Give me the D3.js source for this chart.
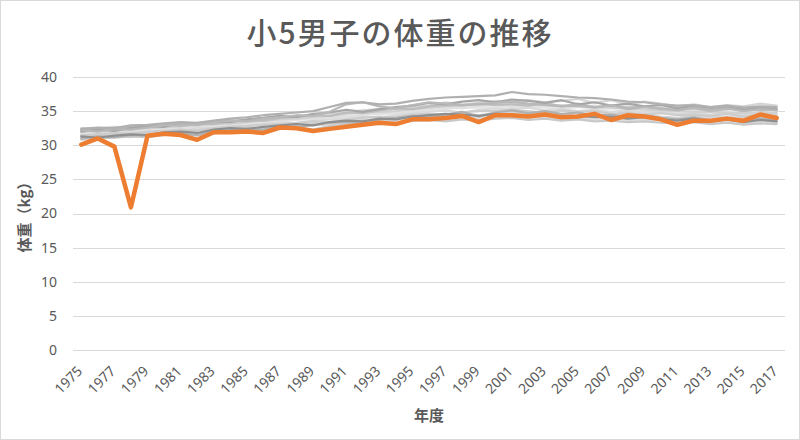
<!DOCTYPE html>
<html><head><meta charset="utf-8">
<script src="https://cdn.jsdelivr.net/npm/d3@7"></script>
<style>
html,body{margin:0;padding:0;background:#fff;}
text{font-family:"Noto Sans CJK JP","Noto Sans",sans-serif;}
</style></head>
<body><svg id="c" width="800" height="440"></svg>
<script>
const years = d3.range(1975, 2018);
const yTicks = [0,5,10,15,20,25,30,35,40];
const xTickLabels = years.filter(y => (y - 1975) % 2 === 0);

const highlight = [30.1,31.0,29.8,20.9,31.4,31.7,31.5,30.8,31.9,31.9,
  32.0,31.8,32.6,32.5,32.1,32.4,32.7,33.0,33.3,33.1,
  33.8,33.8,34.0,34.3,33.4,34.4,34.4,34.2,34.5,34.1,
  34.2,34.6,33.7,34.4,34.2,33.8,33.0,33.6,33.6,33.9,
  33.6,34.5,34.0];

const grayA = [32.4,32.6,32.5,32.9,33.0,33.2,33.4,33.3,33.6,33.9,34.1,34.4,34.6,34.8,35.0,35.6,36.2,36.3,36.0,36.1,36.5,36.8,37.0,37.1,37.2,37.3,37.8,37.5,37.4,37.2,37.0,36.9,36.7,36.4,36.3,36.0,35.8,35.9,35.6,35.8,35.5,35.7,35.6];
const grayB = [30.9,31.0,31.1,31.3,31.2,31.5,31.6,31.4,31.8,32.0,32.1,32.0,32.4,32.6,32.3,32.8,33.0,33.2,33.1,33.3,33.6,33.7,33.5,33.8,33.6,33.9,34.0,33.7,33.9,33.6,33.8,33.5,33.6,33.4,33.5,33.3,33.2,33.4,33.1,33.3,33.0,33.2,33.1];
const grayC = [32.0,32.3,32.1,32.5,32.8,32.7,33.3,33.0,33.5,33.4,33.8,34.0,34.3,34.1,34.6,34.8,35.2,34.9,35.3,35.6,35.8,36.2,36.0,36.4,36.6,36.3,36.7,36.5,36.2,36.6,36.0,36.3,35.8,36.1,35.7,35.9,35.4,35.8,35.3,35.6,35.2,35.5,35.3];
const grayD = [31.5,31.7,31.6,31.9,32.0,32.2,32.1,32.5,32.6,32.8,32.9,33.1,33.3,33.2,33.6,33.8,33.9,34.2,34.0,34.4,34.7,34.9,35.1,34.8,35.2,35.4,35.3,35.5,35.1,35.3,35.0,35.2,34.9,35.1,34.8,34.9,34.6,34.7,34.5,34.8,34.4,34.6,34.5];
const grayE = [31.2,31.4,31.5,31.6,31.8,31.7,32.0,32.2,32.1,32.4,32.6,32.5,32.9,33.0,33.2,33.1,33.5,33.7,33.6,33.9,34.1,34.3,34.2,34.6,34.4,34.7,34.8,34.6,34.9,34.5,34.7,34.4,34.6,34.3,34.5,34.2,34.0,34.3,34.1,34.2,33.9,34.1,34.0];
const grayF = [32.2,32.0,32.4,32.3,32.6,32.9,33.1,33.0,33.4,33.6,33.5,33.9,34.1,34.4,34.3,34.9,36.0,36.3,35.7,35.4,35.9,36.3,36.1,35.9,36.0,36.2,36.4,36.1,35.9,35.7,35.8,35.5,35.9,35.3,35.6,35.4,35.1,35.5,35.2,35.4,35.0,35.3,35.1];
const grayG = [31.8,32.1,32.0,32.2,32.4,32.6,32.5,32.8,33.0,33.1,33.3,33.5,33.4,33.8,34.0,34.2,34.1,34.5,34.7,34.6,35.0,35.3,35.5,35.4,35.7,35.9,35.6,35.8,35.7,35.9,35.6,35.8,35.5,35.7,35.4,35.6,35.3,35.5,35.2,35.4,35.1,35.3,35.2];
const grayH = [31.0,31.3,31.2,31.5,31.4,31.8,31.7,31.5,32.0,32.2,32.4,32.3,32.8,32.6,33.0,33.3,33.4,33.3,33.8,34.0,34.3,34.1,34.5,34.9,34.2,34.8,35.1,34.7,35.0,34.6,34.8,34.3,34.5,34.1,34.4,34.0,33.8,34.1,33.7,34.0,33.6,33.9,33.7];
const grayI = [32.5,32.4,32.7,32.6,32.9,33.1,32.9,33.3,33.5,33.7,33.6,34.0,34.2,34.0,34.5,34.7,34.9,35.1,35.3,35.2,35.6,35.8,36.3,36.0,36.2,36.5,36.4,36.6,36.3,36.5,36.8,36.2,36.6,36.0,36.4,36.1,35.7,36.0,35.6,35.9,35.7,36.1,35.8];
const grayJ = [31.4,31.6,31.8,31.7,32.0,32.1,32.3,32.2,32.5,32.7,32.8,33.0,33.1,33.3,33.5,33.4,33.7,34.0,34.2,34.1,34.5,34.6,34.4,34.8,35.0,35.0,35.2,35.0,34.7,35.1,34.9,35.0,34.6,34.8,34.5,34.7,34.4,34.5,34.3,34.6,34.2,34.5,34.3];
const grayK = [31.6,31.9,31.8,32.1,32.2,32.4,32.6,32.7,32.8,33.0,33.2,33.3,33.6,33.7,33.8,34.1,34.3,34.4,34.6,34.8,35.1,35.0,35.3,35.6,35.5,35.6,35.8,35.6,35.5,35.4,35.6,35.3,35.4,35.2,35.3,35.0,34.9,35.1,34.8,35.0,34.8,35.0,34.9];
const grayL = [31.3,31.1,31.4,31.6,31.5,31.9,32.0,31.8,32.3,32.5,32.4,32.7,32.9,33.1,32.9,33.4,33.6,33.5,33.9,33.8,34.2,34.4,34.6,34.5,34.3,34.6,34.5,34.2,34.6,34.0,34.3,34.1,34.2,33.9,34.1,33.8,33.6,33.9,33.5,33.8,33.4,33.7,33.5];
const grayM = [32.1,32.2,32.3,32.4,32.5,32.6,32.8,32.9,33.1,33.2,33.4,33.6,33.8,33.9,34.1,34.3,34.6,34.8,34.9,35.0,35.3,35.5,35.7,35.9,36.0,36.1,36.2,36.0,35.9,35.8,35.7,35.6,35.5,35.4,35.2,35.1,35.0,34.9,34.9,34.8,34.7,34.8,34.7];
const grayN = [30.8,31.0,31.3,31.2,31.6,31.5,31.8,31.9,31.7,32.1,32.3,32.2,32.6,32.5,32.9,33.0,33.2,33.0,33.4,33.6,33.8,33.6,34.0,34.2,33.9,34.1,34.3,34.0,34.2,33.9,34.0,33.8,34.0,33.7,33.8,33.6,33.4,33.6,33.3,33.5,33.2,33.5,33.3];
const grayO = [32.3,32.5,32.2,32.7,32.6,33.0,32.8,33.2,33.1,33.5,33.7,33.6,34.0,34.2,34.4,34.3,34.8,34.7,35.1,35.4,35.3,35.7,35.9,35.8,36.1,35.9,36.0,35.8,36.2,35.7,36.1,35.6,35.8,35.5,35.7,35.3,35.2,35.4,35.0,35.3,35.4,35.1,35.2];

const grays = [grayK, grayG, grayD, grayN, grayE, grayJ, grayM, grayI, grayB, grayO, grayH, grayC, grayF, grayL, grayA];
const grayColors = ["#e6e6e6","#e0e0e0","#dadada","#dcdcdc","#d4d4d4","#cccccc","#d0d0d0","#d6d6d6","#c8c8c8","#bdbdbd","#b0b0b0","#a6a6a6","#b8b8b8","#8f8f8f","#b0b0b0"];

const svg = d3.select("#c");
const W = 800, H = 440;
svg.append("rect").attr("x",0.5).attr("y",0.5).attr("width",W-1).attr("height",H-1)
  .attr("fill","#fff").attr("stroke","#d9d9d9");

const pLeft = 73, pRight = 785, pTop = 77, pBottom = 350;
const x = d3.scaleBand().domain(years).range([pLeft, pRight]);
const y = d3.scaleLinear().domain([0, 40]).range([pBottom, pTop]);
const cx = yr => x(yr) + x.bandwidth()/2;

// gridlines
svg.append("g").selectAll("line").data(yTicks).join("line")
  .attr("x1", pLeft).attr("x2", pRight)
  .attr("y1", d => Math.round(y(d)) + 0.5).attr("y2", d => Math.round(y(d)) + 0.5)
  .attr("stroke", "#d9d9d9").attr("stroke-width", 1);

// y axis labels
const yAxis = d3.axisLeft(y).tickValues(yTicks).tickSize(0).tickPadding(0);
const gy = svg.append("g").attr("transform", `translate(${pLeft - 16},0)`).call(yAxis);
gy.select(".domain").remove();
gy.selectAll("text").attr("fill","#595959").style("font-size","14px")
  .style("font-family","'Noto Sans','Open Sans',sans-serif");

// x axis labels
const xAxis = d3.axisBottom(x).tickValues(xTickLabels).tickSize(0).tickPadding(0);
const gx = svg.append("g").attr("transform", `translate(0,${pBottom})`).call(xAxis);
gx.select(".domain").remove();
gx.selectAll("text").attr("fill","#595959").style("font-size","14px")
  .style("font-family","'Noto Sans','Open Sans',sans-serif")
  .attr("text-anchor","end").attr("dy",null).attr("y",0)
  .attr("transform","translate(2,22) rotate(-45)");

const line = d3.line().x((d,i) => cx(years[i])).y(d => y(d));

svg.append("g").selectAll("path").data(grays).join("path")
  .attr("d", d => line(d)).attr("fill","none")
  .attr("stroke", (d,i) => grayColors[i % grayColors.length])
  .attr("stroke-width", 2.2).attr("stroke-linejoin","round").attr("stroke-linecap","round");

svg.append("path").attr("d", line(highlight)).attr("fill","none")
  .attr("stroke","#ED7D31").attr("stroke-width",4.5)
  .attr("stroke-linejoin","round").attr("stroke-linecap","round");

// title
svg.append("text").attr("x", 400).attr("y", 44).attr("text-anchor","middle")
  .attr("fill","#595959").style("font-size","30px").style("font-weight","500").style("letter-spacing","2px")
  .text("小5男子の体重の推移");

// axis titles
svg.append("text").attr("transform", `translate(30,${(pTop+pBottom)/2}) rotate(-90)`)
  .attr("text-anchor","middle").attr("fill","#595959").style("font-size","15px")
  .style("font-weight","bold").text("体重（kg）");
svg.append("text").attr("x", (pLeft+pRight)/2).attr("y", 421).attr("text-anchor","middle")
  .attr("fill","#595959").style("font-size","15px").style("font-weight","bold").text("年度");
</script></body></html>
